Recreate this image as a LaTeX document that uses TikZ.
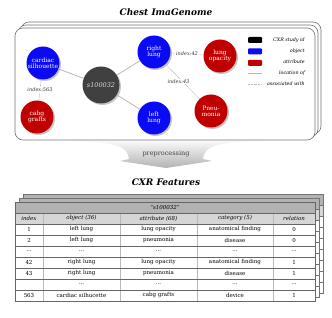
\documentclass[tikz,border=0pt]{standalone}
\usepackage{fontspec}
\setmainfont{DejaVu Serif}
\usepackage{xcolor}
\usepackage{tikz}
\usetikzlibrary{positioning, shadows}
\definecolor{objblue}{RGB}{10,10,245}
\definecolor{attrred}{RGB}{192,0,0}
\definecolor{studygray}{RGB}{64,64,64}
\definecolor{edgegray}{RGB}{185,185,185}
\definecolor{headgray}{RGB}{178,178,178}
\definecolor{colgray}{RGB}{214,214,214}
\newcommand{\fsz}[1]{\fontsize{#1pt}{#1pt}\selectfont}
\newcommand{\rowdots}{...}

\begin{document}
\begin{tikzpicture}[
    x=1pt, y=-1pt,
    ent/.style={circle, minimum size=33pt, inner sep=0pt, align=center, text=white, font=\fsz{6},
        drop shadow={opacity=0.45, shadow xshift=1.5pt, shadow yshift=-1.5pt}},
    objnode/.style={ent, fill=objblue},
    attrnode/.style={ent, fill=attrred},
    studynode/.style={ent, fill=studygray, minimum size=37pt, font=\fsz{6.5}\itshape, text=white!85!black},
    locline/.style={draw=edgegray, line width=0.8pt},
    assocline/.style={draw=edgegray, line width=0.6pt, dash pattern=on 0.8pt off 0.6pt},
    idxlabel/.style={font=\fsz{5}\itshape, fill=white, inner sep=0.6pt, text=black!80},
    panel/.style={draw=black!55, fill=white, rounded corners=8pt, line width=0.6pt},
    swatch/.style={minimum width=14pt, minimum height=6pt, inner sep=0pt, rounded corners=1pt},
    legendtext/.style={font=\fsz{4.8}\itshape, anchor=east, inner sep=0pt},
    title/.style={font=\fsz{9}\bfseries\itshape},
    cell/.style={font=\fsz{5.5}, inner sep=0pt},
    headcell/.style={cell, font=\fsz{5.5}\itshape}
]
    \useasboundingbox (0,0) rectangle (332,318);

    % graph part
    \node[title] (gtitle) at (166,12) {Chest ImaGenome};
    \shade[top color=gray!5, bottom color=gray!60] (70,141) .. controls (115,142) and (128,146) .. (129,159)
        -- (120,161) -- (166,168) -- (212,161) -- (203,159) .. controls (204,146) and (217,142) .. (262,141) -- cycle;
    \node[font=\fsz{6.5}, text=black!75] (prep) at (166,154) {preprocessing};
    \draw[panel] (21,22) rectangle (321,134);
    \draw[panel] (18,25) rectangle (318,137);
    \draw[panel] (15,28) rectangle (315,140);

    \node[objnode] (cardiac) at (43,63) {cardiac\\silhouette};
    \node[attrnode] (cabg) at (37,117) {cabg\\grafts};
    \node[studynode] (study) at (101,85) {s100032};
    \node[objnode] (rlung) at (154,52) {right\\lung};
    \node[objnode] (llung) at (154,118) {left\\lung};
    \node[attrnode] (opacity) at (220,56) {lung\\opacity};
    \node[attrnode] (pneu) at (211,111) {Pneu-\\monia};

    \draw[locline] (study) -- (cardiac);
    \draw[locline] (study) -- (rlung);
    \draw[locline] (study) -- (llung);
    \draw[assocline] (rlung) -- node[idxlabel]{index:42} (opacity);
    \draw[assocline] (rlung) -- node[idxlabel, xshift=-4pt]{index:43} (pneu);
    \draw[assocline] (cardiac) -- node[idxlabel]{index:563} (cabg);

    % legend
    \node[swatch, fill=black] (swstudy) at (255,40) {};
    \node[swatch, fill=objblue, below=5pt of swstudy] (swobj) {};
    \node[swatch, fill=attrred, below=5pt of swobj] (swattr) {};
    \coordinate (locA) at (248,73);
    \coordinate (locB) at (262,73);
    \coordinate (assA) at (248,84);
    \coordinate (assB) at (262,84);
    \draw[locline] (locA) -- (locB);
    \draw[assocline] (assA) -- (assB);
    \node[legendtext] (lgstudy) at (305,40) {CXR study id};
    \node[legendtext] (lgobj) at (305,51) {object};
    \node[legendtext] (lgattr) at (305,62) {attribute};
    \node[legendtext] (lgloc) at (305,73) {location of};
    \node[legendtext] (lgass) at (305,84) {associated with};

    % table part
    \node[title] (ttitle) at (166,182) {CXR Features};
    \foreach \d in {8,4}{
        \fill[white] (15+\d,202-\d) rectangle (315+\d,301-\d);
        \fill[headgray] (15+\d,202-\d) rectangle (315+\d,213-\d);
        \fill[colgray] (15+\d,213-\d) rectangle (315+\d,224-\d);
        \foreach \r in {213,224,...,290}
            \draw[black!55, line width=0.4pt] (15+\d,\r-\d) -- (315+\d,\r-\d);
        \draw[black!55, line width=0.5pt] (15+\d,202-\d) rectangle (315+\d,301-\d);
    }
    \fill[white] (15,202) rectangle (315,301);
    \fill[headgray] (15,202) rectangle (315,213);
    \fill[colgray] (15,213) rectangle (315,224);
    \foreach \c in {43,120,197,273}
        \draw[gray!55, line width=1pt] (\c,213) -- (\c,301);
    \foreach \r in {213,224,...,290}
        \draw[black!60, line width=0.4pt] (15,\r) -- (315,\r);
    \draw[black!60, line width=0.6pt] (15,202) rectangle (315,301);

    \node[headcell] (sid) at (165,207.5) {“s100032”};
    \foreach \x/\t [count=\k] in {29/index, 81.5/object (36), 158.5/attribute (68), 235/category (5), 294/relation}
        \node[headcell] (head-\k) at (\x,218.5) {\t};
    \foreach \i/\a/\b/\c/\e/\f in {
        1/1/left lung/lung opacity/anatomical finding/0,
        2/2/left lung/pneumonia/disease/0,
        3/\rowdots/\rowdots/\rowdots/\rowdots/\rowdots,
        4/42/right lung/lung opacity/anatomical finding/1,
        5/43/right lung/pneumonia/disease/1,
        6//\rowdots/\rowdots/\rowdots/\rowdots,
        7/563/cardiac silhucette/cabg grafts/device/1}{
        \node[cell] (cell-\i-1) at (29,218.5+11*\i) {\a};
        \node[cell] (cell-\i-2) at (81.5,218.5+11*\i) {\b};
        \node[cell] (cell-\i-3) at (158.5,218.5+11*\i) {\c};
        \node[cell] (cell-\i-4) at (235,218.5+11*\i) {\e};
        \node[cell] (cell-\i-5) at (294,218.5+11*\i) {\f};
    }
\end{tikzpicture}
\end{document}
